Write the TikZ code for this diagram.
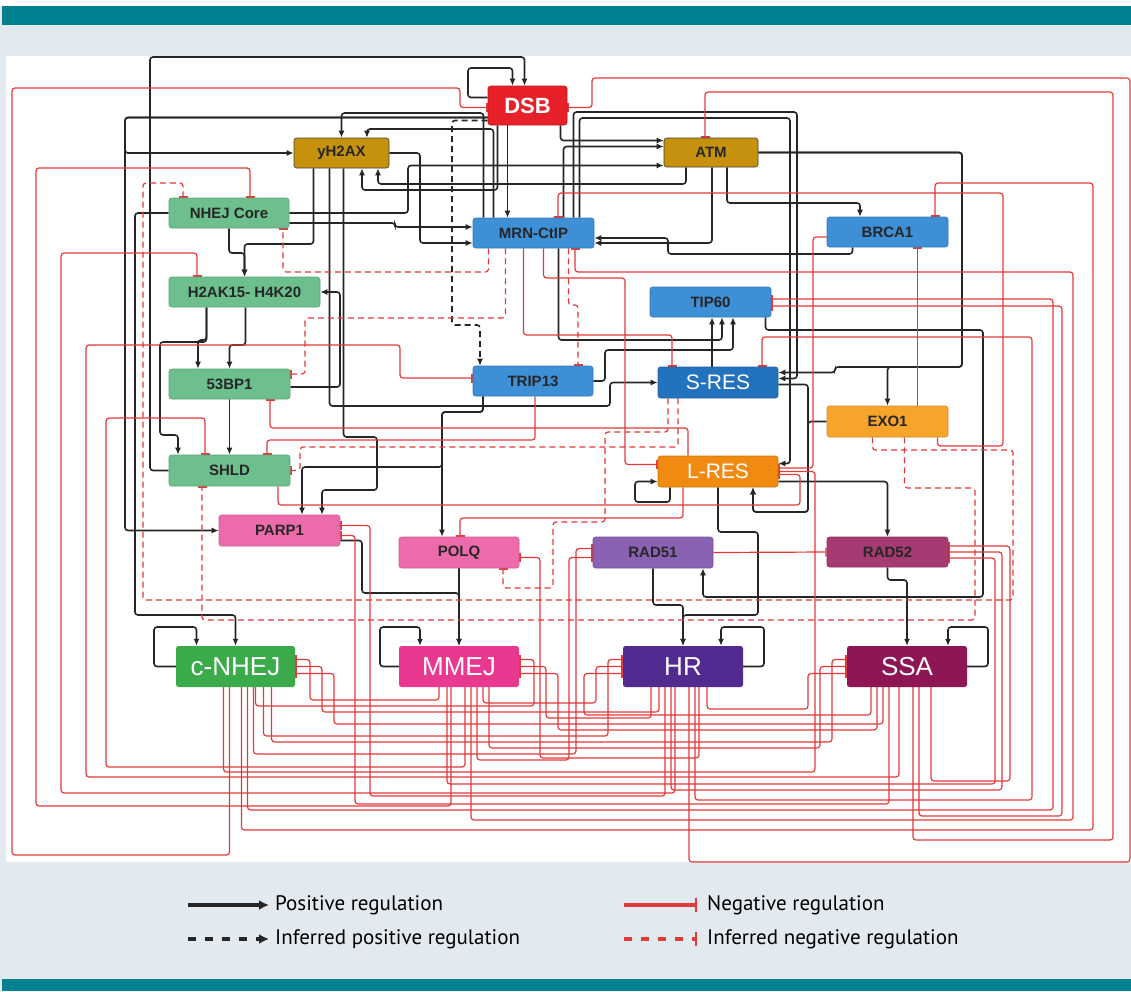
\documentclass[tikz,border=0pt]{standalone}
\usepackage{fontspec}
\setmainfont{Liberation Sans}
\newfontfamily\legfont{PT Sans}
\usetikzlibrary{arrows.meta,calc}

\definecolor{bandteal}{HTML}{00818F}
\definecolor{pagebg}{HTML}{E2EAF0}
\definecolor{negred}{HTML}{E23A3A}
\definecolor{posblk}{HTML}{262626}
\definecolor{dsbred}{HTML}{E8202A}
\definecolor{atmgold}{HTML}{C6920E}
\definecolor{nhejgrn}{HTML}{6DC08E}
\definecolor{mrnblue}{HTML}{3D8FD6}
\definecolor{resblue}{HTML}{2372BE}
\definecolor{exoorg}{HTML}{F7A52A}
\definecolor{resorg}{HTML}{F08A10}
\definecolor{parppink}{HTML}{EE6BAB}
\definecolor{radpur}{HTML}{8A62B3}
\definecolor{radmag}{HTML}{A63A72}
\definecolor{cnhejgrn}{HTML}{3BAA4A}
\definecolor{mmejpink}{HTML}{E8388F}
\definecolor{hrpur}{HTML}{512B8F}
\definecolor{ssamag}{HTML}{8F1654}

\pgfdeclarelayer{back}
\pgfdeclarelayer{wires}
\pgfsetlayers{back,wires,main}

\tikzset{
  gene/.style={rectangle, rounded corners=2.5pt, minimum width=121pt, minimum height=30pt,
    inner sep=0pt, line width=0.6pt, font=\bfseries\fontsize{15}{15}\selectfont, text=black!85},
  fate/.style={rectangle, rounded corners=2.5pt, minimum width=120pt, minimum height=41pt,
    inner sep=0pt, font=\fontsize{26}{26}\selectfont, text=white},
  posreg/.style={draw=posblk, line width=1.6pt, rounded corners=3pt, -{Latex[length=7pt,width=6pt]}},
  posinf/.style={posreg, dash pattern=on 6pt off 4pt},
  negreg/.style={draw=negred, line width=1.2pt, rounded corners=3pt, -{Bar[width=9pt,line width=1.4pt]}},
  neginf/.style={negreg, dash pattern=on 6pt off 4pt},
  legtext/.style={anchor=west, inner sep=0pt, font=\legfont\fontsize{21}{21}\selectfont},
  legline/.style={line width=3.4pt, rounded corners=0pt},
}

\begin{document}
\begin{tikzpicture}[x=1pt,y=-1pt]
	\useasboundingbox (0,0) rectangle (1131,991);
	% page
	\begin{pgfonlayer}{back}
		\fill[pagebg] (0,0) rectangle (1131,991);
		\fill[white] (0,0) rectangle (1131,6);
		\fill[bandteal] (2,6) rectangle (1131,25);
		\fill[white] (6,56) rectangle (1131,862);
		\fill[bandteal] (2,979) rectangle (1131,991);
	\end{pgfonlayer}

	% upstream nodes
	\node[gene, fill=dsbred, draw=dsbred!80!black, minimum width=79pt, minimum height=39pt, text=white,
		font=\bfseries\fontsize{22}{22}\selectfont] (dsb) at (527.5,105.5) {DSB};
	\node[gene, fill=atmgold, draw=black!75, minimum width=95pt] (yhax) at (341.5,153) {yH2AX};
	\node[gene, fill=atmgold, draw=black!75, minimum width=94pt, minimum height=29pt] (atm) at (711,152.5) {ATM};
	\node[gene, fill=nhejgrn, draw=nhejgrn!85!black, minimum width=120pt] (nhej) at (229,213) {NHEJ Core};
	\node[gene, fill=mrnblue, draw=mrnblue!85!black] (mrn) at (533.5,233) {MRN-CtIP};
	\node[gene, fill=mrnblue, draw=mrnblue!85!black] (brca) at (887.5,232) {BRCA1};
	\node[gene, fill=nhejgrn, draw=nhejgrn!85!black, minimum width=151pt] (hak) at (244.5,292) {H2AK15- H4K20};
	\node[gene, fill=mrnblue, draw=mrnblue!85!black] (tip) at (710.5,302) {TIP60};
	\node[gene, fill=nhejgrn, draw=nhejgrn!85!black] (bp53) at (229.5,384) {53BP1};
	\node[gene, fill=mrnblue, draw=mrnblue!85!black, minimum width=120pt] (trip) at (533,381) {TRIP13};
	\node[gene, fill=resblue, draw=resblue!85!black, minimum width=120pt, minimum height=31pt, text=white,
		font=\fontsize{21}{21}\selectfont] (sres) at (718,382.5) {S-RES};
	\node[gene, fill=exoorg, draw=exoorg!85!black, minimum height=31pt] (exo) at (887.5,421.5) {EXO1};
	\node[gene, fill=nhejgrn, draw=nhejgrn!85!black, minimum height=31pt] (shld) at (229.5,470.5) {SHLD};
	\node[gene, fill=resorg, draw=resorg!85!black, minimum width=120pt, minimum height=31pt, text=white,
		font=\fontsize{21}{21}\selectfont] (lres) at (718,471.5) {L-RES};
	\node[gene, fill=parppink, draw=parppink!85!black, minimum height=31pt] (parp) at (279.5,530.5) {PARP1};
	\node[gene, fill=parppink, draw=parppink!85!black, minimum width=120pt, minimum height=31pt] (polq) at (459,552.5) {POLQ};
	\node[gene, fill=radpur, draw=radpur!85!black, minimum width=120pt, minimum height=31pt] (rad51) at (653,552.5) {RAD51};
	\node[gene, fill=radmag, draw=radmag!85!black] (rad52) at (887.5,552) {RAD52};
	% repair outcomes
	\node[fate, fill=cnhejgrn, minimum width=119pt] (cnhej) at (235.5,666.5) {c-NHEJ};
	\node[fate, fill=mmejpink] (mmej) at (459,666.5) {MMEJ};
	\node[fate, fill=hrpur] (hr) at (683,666.5) {HR};
	\node[fate, fill=ssamag] (ssa) at (907,666.5) {SSA};

	\begin{pgfonlayer}{wires}
	% positive regulation
	\draw[posreg] (shld.west) -| (150,57) -| ($(dsb.north)+(-3,0)$);
	\draw[posreg] ($(dsb.west)+(0,-8)$) -| (468,68) -| ($(dsb.north)+(-15,0)$);
	\draw[posreg] ($(dsb.west)+(0,12)$) -- (125,117.5) |- (parp.west);
	\draw[posreg] ($(dsb.west)+(0,12)$) -- (125,117.5) |- (yhax.west);
	\draw[posreg] (nhej.west) -| (135,615) -| (cnhej.north);
	\draw[posreg] (cnhej.west) -| (154,627) -| ($(cnhej.north)+(-39,0)$);
	\draw[posreg] (nhej.south) |- (244.5,253) -- (hak.north);
	\draw[posreg] ($(yhax.south)+(-28,0)$) |- (244.5,244) -- (hak.north);
	\draw[posreg] ($(hak.south)+(-38,0)$) |- (198,340) -- ($(bp53.north)+(-31.5,0)$);
	\draw[posreg] ($(hak.south)+(1,0)$) |- (229.5,345) -- (bp53.north);
	\draw[posreg] ($(hak.south)+(-38,0)$) |- (160,342) |- (178,435) -- ($(shld.north)+(-51.5,0)$);
	\draw[posreg] (bp53.south) -- (shld.north);
	\draw[posreg] ($(bp53.east)+(0,3)$) -| (340,292) -- (hak.east);
	\draw[posreg] ($(yhax.south)+(-12,0)$) |- (610,406) |- (sres.west);
	\draw[posreg] (yhax.east) -- (420,153) |- ($(mrn.west)+(0,10)$);
	\draw[posreg] ($(nhej.east)+(0,10)$) -| (395,227) -- ($(mrn.west)+(0,-6)$);
	\draw[posreg] (nhej.east) -- (408,213) |- ($(atm.west)+(0,13)$);
	\draw[posreg] ($(dsb.south)+(33,0)$) |- ($(atm.west)+(0,-12)$);
	\draw[posreg] ($(dsb.south)+(-20,0)$) -- ($(mrn.north)+(-26,0)$);
	\draw[posreg] ($(dsb.south)+(-30,0)$) |- (362,190) -- ($(yhax.south)+(20.5,0)$);
	\draw[posreg] ($(atm.south)+(-25,0)$) |- (378,184) -- ($(yhax.south)+(36.5,0)$);
	\draw[posreg] ($(mrn.north)+(-50,0)$) |- (341.5,113) -- (yhax.north);
	\draw[posreg] ($(mrn.north)+(-40,0)$) |- (367,129) -- ($(yhax.north)+(25.5,0)$);
	\draw[posreg] ($(atm.south)+(1,0)$) |- ($(mrn.east)+(0,10)$);
	\draw[posreg] ($(brca.south)+(-35,0)$) |- (668,254) |- ($(mrn.east)+(0,5)$);
	\draw[posreg] ($(atm.south)+(16,0)$) |- (860,203) -- ($(brca.north)+(-27.5,0)$);
	\draw[posreg] ($(mrn.north)+(30,0)$) |- ($(atm.west)+(0,-6)$);
	\draw[posreg] (atm.east) -| (962,367) -| (exo.north);
	\draw[posreg] (atm.east) -| (962,367) -- (835,367) |- ($(sres.east)+(0,-10)$);
	\draw[posreg] ($(mrn.north)+(40,0)$) |- (797,112) |- ($(sres.east)+(0,-4)$);
	\draw[posreg] ($(mrn.north)+(46,0)$) |- (790,118) |- ($(lres.east)+(0,-8)$);
	\draw[posreg] ($(tip.south)+(55,0)$) |- (983,330) |- (703,597) -- ($(rad51.south)+(50,0)$);
	\draw[posreg] ($(sres.north)+(-6,0)$) -- ($(tip.south)+(1.5,0)$);
	\draw[posreg] ($(mrn.south)+(25,0)$) |- (722,340) -- ($(tip.south)+(11.5,0)$);
	\draw[posreg] (trip.east) -- (605,381) |- (733,350) -- ($(tip.south)+(22.5,0)$);
	\draw[posreg] ($(sres.east)+(0,2)$) -| (808,512) -| ($(lres.south)+(35,0)$);
	\draw[posreg] (exo.west) -| (808,512) -| ($(lres.south)+(35,0)$);
	\draw[posreg] ($(lres.south)+(-48,0)$) |- (635,502) |- ($(lres.west)+(0,10)$);
	\draw[posreg] ($(lres.east)+(0,10)$) -| (rad52.north);
	\draw[posreg] (lres.south) |- (758,532) |- (683,615) -- (hr.north);
	\draw[posreg] (rad51.south) |- (683,605) -- (hr.north);
	\draw[posreg] (hr.east) -| (764,627) -| ($(hr.north)+(38,0)$);
	\draw[posreg] (rad52.south) |- (907,580) -- (ssa.north);
	\draw[posreg] (ssa.east) -| (988,627) -| ($(ssa.north)+(41,0)$);
	\draw[posreg] ($(trip.south)+(-50,0)$) |- (442,412) -- ($(polq.north)+(-17,0)$);
	\draw[posreg] ($(trip.south)+(-50,0)$) |- (442,412) |- (302,467) -- ($(parp.north)+(22.5,0)$);
	\draw[posreg] ($(yhax.south)+(2,0)$) |- (377,437) |- (322,490) -- ($(parp.north)+(42.5,0)$);
	\draw[posreg] (polq.south) -- (mmej.north);
	\draw[posreg] ($(parp.east)+(0,10)$) -| (362,593) -| (mmej.north);
	\draw[posreg] (mmej.west) -| (380,627) -| ($(mmej.north)+(-39,0)$);
	\draw[posinf] ($(dsb.west)+(0,15)$) -| (452,325) -| ($(trip.north)+(-53,0)$);

	% negative regulation, upstream
	\draw[negreg] ($(cnhej.south)+(-6,0)$) |- (12,855) |- (460,88) |- ($(dsb.west)+(0,2)$);
	\draw[negreg] ($(hr.south)+(6,0)$) |- (1130,862) |- (592,78) |- ($(dsb.east)+(0,2)$);
	\draw[negreg] ($(ssa.south)+(-8,0)$) |- (86,777) |- (400,345) |- ($(trip.west)+(0,-3)$);
	\draw[negreg] ($(trip.south)+(2,0)$) |- (267,440) -- ($(shld.north)+(37.5,0)$);
	\draw[negreg] ($(lres.north)+(-30,0)$) |- (270,428) -- ($(bp53.south)+(40.5,0)$);
	\draw[negreg] ($(mrn.south)+(10,0)$) |- (625,278) |- ($(lres.west)+(0,-7)$);
	\draw[negreg] ($(mrn.south)+(-10,0)$) |- (672,335) -- ($(sres.north)+(-46,0)$);
	\draw[negreg] ($(exo.south)+(50,0)$) |- (1003,446) |- (558,193) -- ($(mrn.north)+(24.5,0)$);
	\draw[negreg] ($(exo.north)+(30,0)$) -- ($(brca.south)+(30,0)$);
	\draw[negreg] ($(brca.west)+(0,5)$) -| (813,468) -- ($(lres.east)+(0,-3.5)$);
	\draw[negreg] ($(shld.south)+(48.5,0)$) |- (800,505) |- ($(lres.east)+(0,3)$);
	\draw[negreg] ($(lres.south)+(-35,0)$) |- (460,518) -- ($(polq.north)+(1,0)$);
	\draw[negreg] (rad51.east) -- (rad52.west);
	\foreach \s/\dx/\lv/\col/\ty/\t/\ox in {
		mmej/-8/806/36/168/nhej.north/21,
		hr/-8/793/61/253/hak.north/-47.5,
		mmej/6/767/106/418/shld.north/-24.5,
		ssa/6/840/1113/92/atm.north/-6,
		cnhej/6/830/1093/183/brca.north/47.5,
		mmej/12/820/1073/272/mrn.south/41.5,
		hr/12/800/1032/337/sres.north/44}
		\draw[negreg] ($(\s.south)+(\dx,0)$) |- (\col,\lv) -- (\col,\ty) -| ($(\t)+(\ox,0)$);
	\foreach \s/\dx/\lv/\col/\t/\oy in {
		cnhej/12/810/1053/tip.east/-3,
		ssa/12/816/1062/tip.east/4,
		hr/-12/790/1002/rad52.east/0,
		mmej/-12/784/995/rad52.east/6,
		ssa/24/781/1010/rad52.east/-6,
		cnhej/-12/772/815/lres.east/0,
		mmej/18/760/569/rad51.west/5,
		cnhej/18/754/576/rad51.west/-4,
		hr/-18/796/370/parp.east/-5,
		ssa/-18/804/355/parp.east/5,
		hr/16/758/540/polq.east/5}
		\draw[negreg] ($(\s.south)+(\dx,0)$) |- (\col,\lv) |- ($(\t)+(0,\oy)$);

	% negative regulation between outcomes
	\foreach \s/\dx/\lv/\col/\t/\oy in {
		mmej/-20/700/310/cnhej.east/-7,
		hr/-24/712/322/cnhej.east/0,
		ssa/-24/724/334/cnhej.east/7,
		cnhej/20/706/534/mmej.east/-7,
		hr/-32/718/546/mmej.east/0,
		ssa/-30/730/558/mmej.east/7,
		cnhej/28/736/608/hr.west/-7,
		mmej/24/703/596/hr.west/0,
		ssa/-36/715/584/hr.west/7,
		cnhej/36/742/832/ssa.west/-7,
		mmej/30/748/820/ssa.west/0,
		hr/24/709/808/ssa.west/7}
		\draw[negreg] ($(\s.south)+(\dx,0)$) |- (\col,\lv) |- ($(\t)+(0,\oy)$);

	% inferred negative regulation
	\draw[neginf] ($(exo.south)+(-15,0)$) |- (1013,450) |- (143,600) |- (183,183) -- ($(nhej.north)+(-46,0)$);
	\draw[neginf] ($(exo.south)+(17,0)$) |- (975,488) |- (202,620) -- ($(shld.south)+(-27.5,0)$);
	\draw[neginf] ($(mrn.south)+(-45,0)$) |- (283,272) -- ($(nhej.south)+(54,0)$);
	\draw[neginf] ($(mrn.south)+(-28,0)$) |- (305,318) |- ($(bp53.east)+(0,-10)$);
	\draw[neginf] ($(sres.south)+(-40,0)$) |- (300,447) |- (shld.east);
	\draw[neginf] ($(sres.south)+(-50,0)$) |- (605,432) |- (553,522) |- (503,588) -- ($(polq.south)+(44,0)$);
	\draw[neginf] ($(mrn.south)+(35,0)$) |- (578,305) -- ($(trip.north)+(45,0)$);
	\end{pgfonlayer}

	% legend
	\node[legtext] (lpos) at (275,905) {Positive regulation};
	\node[legtext] (lipos) at (275,939) {Inferred positive regulation};
	\node[legtext] (lneg) at (707,905) {Negative regulation};
	\node[legtext] (lineg) at (707,939) {Inferred negative regulation};
	\draw[posreg, legline, -{Latex[length=10pt,width=10pt]}] ($(lpos.west)+(-87,0)$) -- ($(lpos.west)+(-6,0)$);
	\draw[posreg, legline, dash pattern=on 8pt off 9pt, -{Latex[length=10pt,width=10pt]}] ($(lipos.west)+(-87,0)$) -- ($(lipos.west)+(-6,0)$);
	\draw[negreg, legline, -{Bar[width=14pt,line width=2.4pt]}] ($(lneg.west)+(-83,0)$) -- ($(lneg.west)+(-10,0)$);
	\draw[negreg, legline, dash pattern=on 8pt off 9pt, -{Bar[width=14pt,line width=2.4pt]}] ($(lineg.west)+(-83,0)$) -- ($(lineg.west)+(-10,0)$);
\end{tikzpicture}
\end{document}
